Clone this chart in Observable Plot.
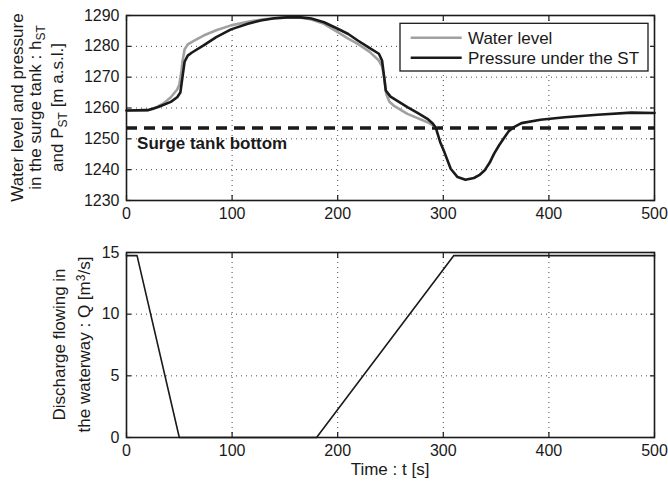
<!DOCTYPE html>
<html>
<head>
<meta charset="utf-8">
<script src="https://cdn.jsdelivr.net/npm/d3@7"></script>
<script src="https://cdn.jsdelivr.net/npm/@observablehq/plot@0.6"></script>
<style>
  html, body { margin: 0; padding: 0; background: #fff; }
  #chart svg { display: block; }
</style>
</head>
<body>
<div id="chart"></div>
<script>
// ---- data ----
const tWater = [0, 20, 26, 35, 42, 48, 50, 52, 53, 55, 58, 65, 73, 85, 99, 115, 130, 150, 165, 175, 187, 200, 210, 219, 230, 239, 242, 244, 246, 249, 253, 266, 285, 293];
const hWater = [1259.2, 1259.3, 1259.8, 1261.5, 1263.5, 1266, 1267.5, 1272, 1275, 1279, 1280.6, 1282, 1283.5, 1285.2, 1286.8, 1288, 1288.8, 1289.3, 1289.3, 1288.7, 1287.3, 1284.6, 1282.5, 1280.8, 1278.3, 1275.4, 1273.5, 1270, 1264.5, 1262, 1260.8, 1258.1, 1255.4, 1253.8];
const tPress = [0, 20, 30, 42, 48, 51, 53, 55, 58, 62, 73, 85, 99, 115, 127, 140, 152, 165, 175, 187, 200, 210, 219, 230, 239, 242, 244, 245.5, 250, 258, 266, 276, 285, 290, 293, 297, 301, 307, 313.5, 321, 329, 334, 339, 344, 348, 353, 358, 362, 366, 374, 392, 415, 446, 478, 500];
const pPress = [1259.2, 1259.3, 1260.3, 1262, 1263.5, 1265, 1270, 1275, 1277, 1278, 1280.3, 1283, 1285.5, 1287.3, 1288.4, 1289.1, 1289.4, 1289.4, 1289, 1287.8, 1285.7, 1284, 1281.9, 1279.5, 1277.6, 1275.4, 1270, 1265.7, 1263.7, 1262, 1260.3, 1258.3, 1256.5, 1255, 1253.5, 1249, 1245.7, 1240.3, 1237.6, 1236.7, 1237.3, 1238.2, 1239.7, 1242.3, 1245.1, 1248, 1250.5, 1252.5, 1253.6, 1255.1, 1256.2, 1257, 1257.8, 1258.5, 1258.4];
const tankBottom = 1253.5;
const tankLabel = "Surge tank bottom";
const tankLabelPos = {t: 10, h: 1248.5};
const tQ = [0, 10, 50, 180, 310, 500];
const qQ = [14.75, 14.75, 0, 0, 14.75, 14.75];
const xTicks = [0, 100, 200, 300, 400, 500];
const yTicksTop = [1230, 1240, 1250, 1260, 1270, 1280, 1290];
const yTicksBottom = [0, 5, 10, 15];
const seriesNames = ["Water level", "Pressure under the ST"];
const seriesColors = ["#a0a0a0", "#1a1a1a"];

const water = tWater.map((t, i) => ({t, v: hWater[i]}));
const press = tPress.map((t, i) => ({t, v: pPress[i]}));
const flow = tQ.map((t, i) => ({t, v: qQ[i]}));

const FONT = "'Liberation Sans', Arial, Helvetica, sans-serif";
const W = 668, ML = 126, MR = 14;
const fmt = d3.format("d");

function frameMarks(yTicks) {
  const grid = {stroke: "#333", strokeOpacity: 1, strokeWidth: 0.9, strokeDasharray: "1,4"};
  return [
    Plot.gridX(xTicks, grid),
    Plot.gridY(yTicks, grid),
    Plot.axisX(xTicks, {anchor: "bottom", tickSize: -5, tickPadding: 12, tickFormat: fmt, label: null, fontSize: 16, strokeWidth: 1.2}),
    Plot.axisX(xTicks, {anchor: "top", tickSize: -5, tickFormat: () => "", label: null, strokeWidth: 1.2}),
    Plot.axisY(yTicks, {anchor: "left", tickSize: -5, tickPadding: 12, tickFormat: fmt, label: null, fontSize: 16, strokeWidth: 1.2}),
    Plot.axisY(yTicks, {anchor: "right", tickSize: -5, tickFormat: () => "", label: null, strokeWidth: 1.2})
  ];
}

const topChart = Plot.plot({
  width: W, height: 240,
  marginLeft: ML, marginRight: MR, marginTop: 15, marginBottom: 40,
  style: {fontFamily: FONT, fontSize: "16px", color: "#1a1a1a", background: "white"},
  x: {domain: [0, 500]},
  y: {domain: [1230, 1290]},
  marks: [
    ...frameMarks(yTicksTop),
    Plot.ruleY([tankBottom], {stroke: "#1a1a1a", strokeWidth: 3.5, strokeDasharray: "11,7"}),
    Plot.text([tankLabelPos], {x: "t", y: "h", text: () => tankLabel, textAnchor: "start", fontWeight: "bold", fontSize: 17, fill: "#1a1a1a"}),
    Plot.line(water, {x: "t", y: "v", stroke: seriesColors[0], strokeWidth: 2.6}),
    Plot.line(press, {x: "t", y: "v", stroke: seriesColors[1], strokeWidth: 2.6}),
    Plot.frame({stroke: "#1a1a1a", strokeWidth: 1.6})
  ]
});

const bottomChart = Plot.plot({
  width: W, height: 247,
  marginLeft: ML, marginRight: MR, marginTop: 12, marginBottom: 50,
  style: {fontFamily: FONT, fontSize: "16px", color: "#1a1a1a", background: "white"},
  x: {domain: [0, 500]},
  y: {domain: [0, 15]},
  marks: [
    ...frameMarks(yTicksBottom),
    Plot.line(flow, {x: "t", y: "v", stroke: "#1a1a1a", strokeWidth: 1.6}),
    Plot.frame({stroke: "#1a1a1a", strokeWidth: 1.6})
  ]
});

document.getElementById("chart").append(topChart, bottomChart);

// ---- axis labels and legend ----
function addLines(svg, cy, lines) {
  lines.forEach(line => {
    const txt = d3.select(svg).append("text")
      .attr("transform", `translate(${line.x},${cy}) rotate(-90)`)
      .attr("text-anchor", "middle")
      .attr("font-family", FONT).attr("font-size", 17).attr("fill", "#1a1a1a");
    line.parts.forEach(p => {
      const ts = txt.append("tspan").text(p.t);
      if (p.sub) ts.attr("baseline-shift", "-30%").attr("font-size", 12);
      if (p.sup) ts.attr("baseline-shift", "40%").attr("font-size", 12);
    });
  });
}

addLines(topChart, 107.5, [
  {x: 23, parts: [{t: "Water level and pressure"}]},
  {x: 41, parts: [{t: "in the surge tank : h"}, {t: "ST", sub: true}]},
  {x: 63, parts: [{t: "and P"}, {t: "ST", sub: true}, {t: " [m a.s.l.]"}]}
]);

addLines(bottomChart, 344.5 - 240, [
  {x: 65, parts: [{t: "Discharge flowing in"}]},
  {x: 90, parts: [{t: "the waterway : Q [m"}, {t: "3", sup: true}, {t: "/s]"}]}
]);

d3.select(bottomChart).append("text")
  .attr("x", (ML + W - MR) / 2).attr("y", 475 - 240)
  .attr("text-anchor", "middle")
  .attr("font-family", FONT).attr("font-size", 17).attr("fill", "#1a1a1a")
  .text("Time : t [s]");

// legend
const lg = d3.select(topChart).append("g");
lg.append("rect").attr("x", 400).attr("y", 23.3).attr("width", 248).attr("height", 47.7)
  .attr("fill", "white").attr("stroke", "#1a1a1a").attr("stroke-width", 1.3);
seriesNames.forEach((name, i) => {
  const cy = 37.7 + i * 20;
  lg.append("line").attr("x1", 410.7).attr("x2", 461.7).attr("y1", cy).attr("y2", cy)
    .attr("stroke", seriesColors[i]).attr("stroke-width", 2.6);
  lg.append("text").attr("x", 468).attr("y", cy).attr("dy", "0.35em")
    .attr("text-anchor", "start")
    .attr("font-family", FONT).attr("font-size", 17).attr("fill", "#1a1a1a").text(name);
});
</script>
</body>
</html>
